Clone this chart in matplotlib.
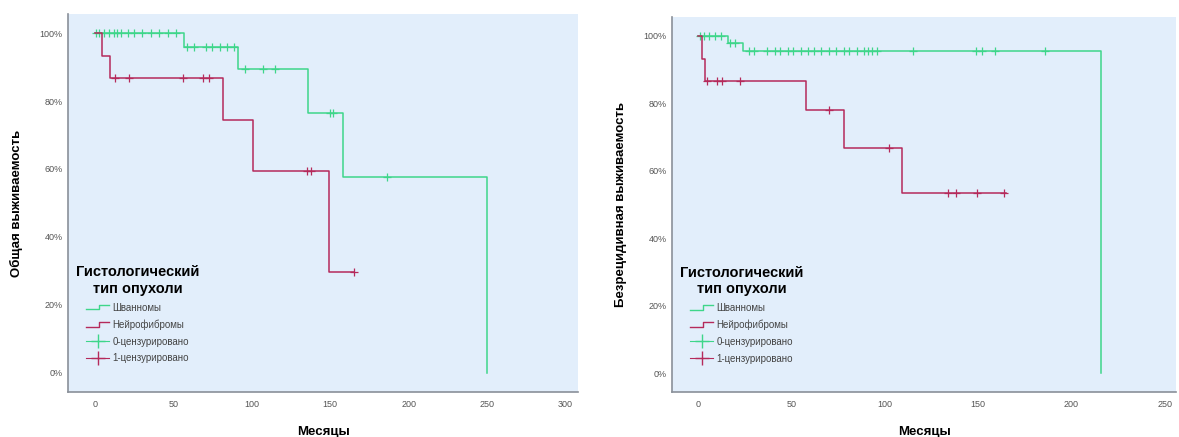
import matplotlib
matplotlib.use("Agg")
import matplotlib.pyplot as plt
from matplotlib.lines import Line2D
from matplotlib.legend_handler import HandlerBase
from matplotlib.ticker import PercentFormatter

plt.rcParams['font.family'] = ['Liberation Sans', 'DejaVu Sans']

green = '#3ED68A'
red = '#B52A5B'
bg = '#E2EEFB'

# overall survival (left)
os_schw_t = [0, 57, 91, 136, 158, 250]
os_schw_s = [1.0, 0.958, 0.894, 0.766, 0.575, 0.0]
os_schw_cens = {1.0: [1, 3, 6, 9, 12, 14, 17, 21, 25, 30, 36, 41, 47, 52],
                0.958: [59, 63, 71, 75, 80, 84, 89],
                0.894: [96, 107, 115],
                0.766: [150, 152],
                0.575: [186]}
os_nf_t = [0, 4.5, 9.6, 81.6, 101, 149, 165]
os_nf_s = [1.0, 0.933, 0.867, 0.743, 0.594, 0.297, 0.297]
os_nf_cens = {0.867: [13, 22, 56, 69, 73],
              0.594: [135, 138],
              0.297: [165]}

# recurrence-free survival (right)
rfs_schw_t = [0, 16, 24, 216]
rfs_schw_s = [1.0, 0.979, 0.956, 0.0]
rfs_schw_cens = {1.0: [1, 3, 6, 9, 12],
                 0.979: [17, 20],
                 0.956: [27, 30, 37, 41, 44, 48, 51, 55, 59, 62, 66, 70, 74, 78,
                         81, 85, 89, 91, 93, 96, 115, 149, 152, 159, 186]}
rfs_nf_t = [0, 2, 3.5, 58, 78, 109, 165]
rfs_nf_s = [1.0, 0.933, 0.867, 0.78, 0.668, 0.535, 0.535]
rfs_nf_cens = {0.867: [5, 10, 13, 22.5],
               0.78: [70],
               0.668: [102],
               0.535: [134, 138, 149.5, 164]}

legend_labels = ['Шванномы', 'Нейрофибромы', '0-цензурировано', '1-цензурировано']
legend_title = 'Гистологический\nтип опухоли'


class StepHandler(HandlerBase):
    # small step icon like in SPSS legends
    def create_artists(self, legend, orig_handle, xdescent, ydescent,
                       width, height, fontsize, trans):
        x0 = -xdescent
        y0 = -ydescent
        xs = [x0, x0 + 0.55 * width, x0 + 0.55 * width, x0 + width]
        ys = [y0 + 0.15 * height, y0 + 0.15 * height,
              y0 + 0.85 * height, y0 + 0.85 * height]
        ln = Line2D(xs, ys, color=orig_handle.get_color(), lw=1, transform=trans)
        return [ln]


fig = plt.figure(figsize=(11.79, 4.37), dpi=100)
ax1 = fig.add_axes([0.0577, 0.103, 0.4326, 0.865])
ax2 = fig.add_axes([0.570, 0.103, 0.4275, 0.858])


def draw_panel(ax, groups, xlim, xticks, ylabel):
    ax.set_facecolor(bg)
    for t, s, cens, col in groups:
        ax.step(t, s, where='post', color=col, lw=1.1)
        for lvl, xs in cens.items():
            ax.plot(xs, [lvl] * len(xs), ls='none', marker='+', ms=6,
                    mew=0.9, color=col)
    ax.set_xlim(*xlim)
    ax.set_ylim(-0.056, 1.056)
    ax.set_xticks(xticks)
    ax.set_yticks([0, 0.2, 0.4, 0.6, 0.8, 1.0])
    ax.yaxis.set_major_formatter(PercentFormatter(1.0, decimals=0))
    ax.tick_params(axis='x', length=0, labelsize=6.5, colors='#555555', pad=6)
    ax.tick_params(axis='y', length=0, labelsize=6.5, colors='#555555', pad=4)
    for sp in ['top', 'right']:
        ax.spines[sp].set_visible(False)
    for sp in ['left', 'bottom']:
        ax.spines[sp].set_color('#8a9099')
        ax.spines[sp].set_linewidth(1.2)
    ax.set_xlabel('Месяцы', fontsize=9.5, fontweight='bold', labelpad=12)
    ax.set_ylabel(ylabel, fontsize=9.5, fontweight='bold', labelpad=12)

    handles = [Line2D([], [], color=green, lw=1),
               Line2D([], [], color=red, lw=1),
               Line2D([], [], color=green, lw=0.8, marker='+', ms=10,
                      markevery=[1], mew=1),
               Line2D([], [], color=red, lw=0.8, marker='+', ms=10,
                      markevery=[1], mew=1)]
    leg = ax.legend(handles, legend_labels, title=legend_title, loc='lower left',
                    bbox_to_anchor=(0.0, 0.055), frameon=False, fontsize=7,
                    handlelength=2.4, handletextpad=0.3, labelspacing=0.7,
                    borderpad=0.3,
                    handler_map={handles[0]: StepHandler(),
                                 handles[1]: StepHandler()},
                    title_fontproperties={'weight': 'bold', 'size': 10.5})
    leg.get_title().set_multialignment('center')
    for txt in leg.get_texts():
        txt.set_color('#444444')


draw_panel(ax1, [(os_schw_t, os_schw_s, os_schw_cens, green),
                 (os_nf_t, os_nf_s, os_nf_cens, red)],
           (-17, 308), [0, 50, 100, 150, 200, 250, 300], 'Общая выживаемость')
draw_panel(ax2, [(rfs_schw_t, rfs_schw_s, rfs_schw_cens, green),
                 (rfs_nf_t, rfs_nf_s, rfs_nf_cens, red)],
           (-14, 256), [0, 50, 100, 150, 200, 250], 'Безрецидивная выживаемость')

fig.savefig('out.png', dpi=100)
